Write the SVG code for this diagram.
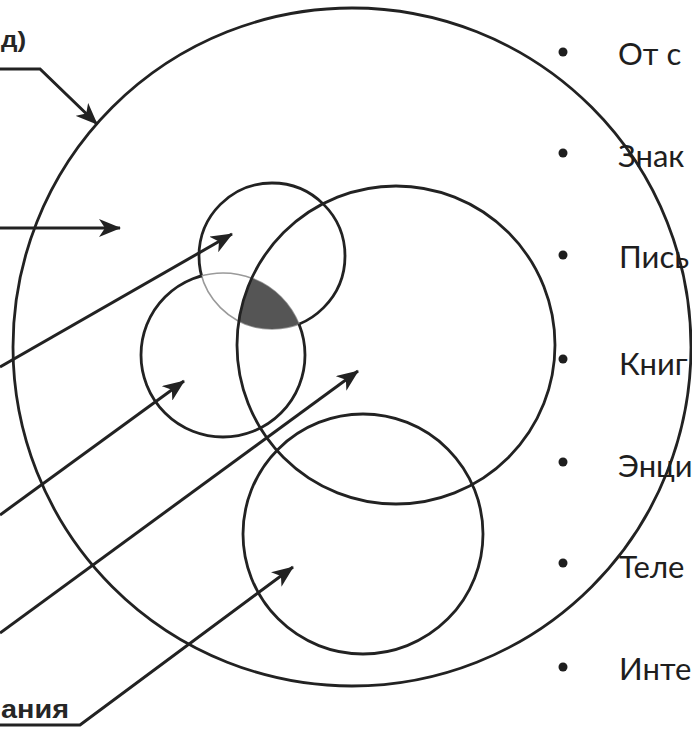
<svg xmlns="http://www.w3.org/2000/svg" width="692" height="730" viewBox="0 0 692 730">
  <style>
    .c { fill: none; stroke: #222; stroke-width: 2.8; }
    .lt { fill: none; stroke: #9a9a9a; stroke-width: 1.6; }
    .ar { fill: none; stroke: #222; stroke-width: 3; marker-end: url(#ah); }
    .bt { font-family: Lato, "Open Sans", sans-serif; font-size: 31px; fill: #1e1e1e; }
    .bl { fill: #1e1e1e; }
    .lb { font-family: "Liberation Sans", Arial, sans-serif; fill: #262626; }
  </style>
  <defs>
    <marker id="ah" markerUnits="userSpaceOnUse" markerWidth="22" markerHeight="18" refX="21" refY="9" orient="auto">
      <path d="M0,0 L22,9 L0,18 L6,9 z" fill="#222"/>
    </marker>
    <clipPath id="clipL"><circle cx="223" cy="355" r="82"/></clipPath>
    <clipPath id="clipT"><circle cx="272" cy="256" r="73"/></clipPath>
    <mask id="notL" maskUnits="userSpaceOnUse" x="0" y="0" width="692" height="730">
      <rect x="0" y="0" width="692" height="730" fill="#fff"/>
      <circle cx="223" cy="355" r="82" fill="#000"/>
    </mask>
    <mask id="notT" maskUnits="userSpaceOnUse" x="0" y="0" width="692" height="730">
      <rect x="0" y="0" width="692" height="730" fill="#fff"/>
      <circle cx="272" cy="256" r="73" fill="#000"/>
    </mask>
  </defs>
  <rect x="0" y="0" width="692" height="730" fill="#fff"/>

  <g id="big-circle">
    <circle class="c" cx="352" cy="347" r="339"/>
  </g>

  <g id="circle-top">
    <circle class="c" cx="272" cy="256" r="73" mask="url(#notL)"/>
    <circle class="lt" cx="272" cy="256" r="73" clip-path="url(#clipL)"/>
  </g>

  <g id="circle-left">
    <circle class="c" cx="223" cy="355" r="82" mask="url(#notT)"/>
    <circle class="lt" cx="223" cy="355" r="82" clip-path="url(#clipT)"/>
  </g>

  <g id="overlap">
    <g clip-path="url(#clipL)">
      <g clip-path="url(#clipT)">
        <circle cx="396" cy="345" r="159" fill="#555"/>
      </g>
    </g>
  </g>

  <g id="circle-right">
    <circle class="c" cx="396" cy="345" r="159"/>
  </g>

  <g id="circle-bottom">
    <circle class="c" cx="363" cy="534" r="120"/>
  </g>

  <g id="connectors">
    <polyline class="ar" points="0,69 40,69 97,124"/>
    <line class="ar" x1="0" y1="228" x2="120" y2="228"/>
    <line class="ar" x1="0" y1="367" x2="232" y2="234"/>
    <line class="ar" x1="0" y1="515" x2="184" y2="381"/>
    <line class="ar" x1="0" y1="633" x2="358" y2="371"/>
    <polyline class="ar" points="0,725 80,725 293,567"/>
  </g>

  <g id="left-labels">
    <text class="lb" x="1" y="47" font-size="22" font-weight="bold" textLength="25" lengthAdjust="spacingAndGlyphs">д)</text>
    <text class="lb" x="1" y="718" font-size="26" font-weight="bold" textLength="68" lengthAdjust="spacingAndGlyphs">ания</text>
  </g>

  <g id="list">
    <circle class="bl" cx="563" cy="52" r="4.5"/>
    <text class="bt" x="618" y="65">От с</text>
    <circle class="bl" cx="563" cy="153" r="4.5"/>
    <text class="bt" x="618" y="167">Знак</text>
    <circle class="bl" cx="563" cy="255" r="4.5"/>
    <text class="bt" x="619" y="268">Пись</text>
    <circle class="bl" cx="563" cy="359" r="4.5"/>
    <text class="bt" x="619" y="375">Книг</text>
    <circle class="bl" cx="563" cy="462" r="4.5"/>
    <text class="bt" x="618" y="477">Энци</text>
    <circle class="bl" cx="563" cy="563" r="4.5"/>
    <text class="bt" x="619" y="578">Теле</text>
    <circle class="bl" cx="563" cy="667" r="4.5"/>
    <text class="bt" x="619" y="680">Инте</text>
  </g>
</svg>
